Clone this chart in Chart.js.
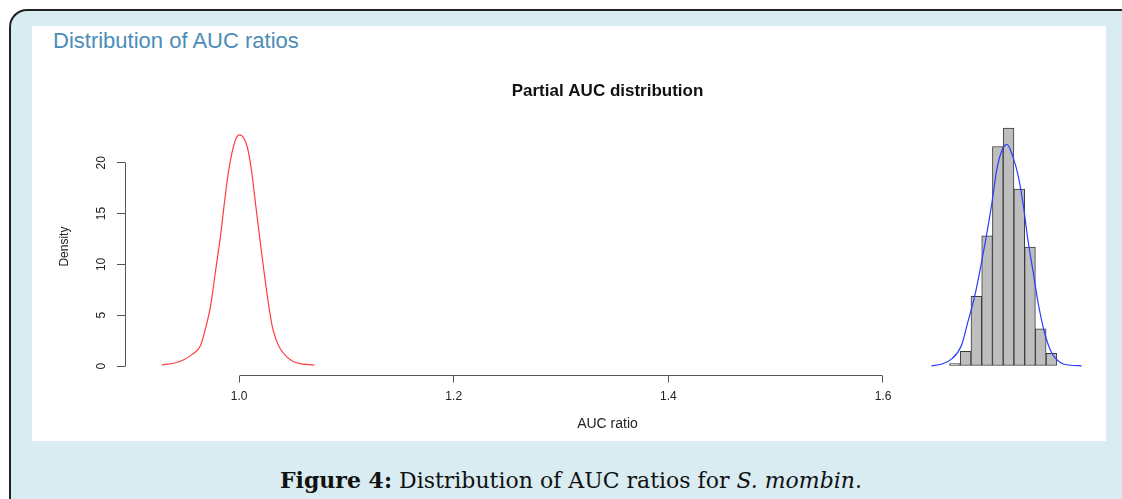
<!DOCTYPE html>
<html><head><meta charset="utf-8">
<script src="https://cdn.jsdelivr.net/npm/chart.js@4.4.1/dist/chart.umd.min.js"></script>
<style>
html,body{margin:0;padding:0;width:1122px;height:499px;overflow:hidden;background:#fff;}
#frame{position:absolute;left:9px;top:9px;width:1200px;height:600px;border-top:2px solid #222;border-left:2px solid #222;border-top-left-radius:18px;background:#d8ecf1;box-sizing:border-box;}
#panel{position:absolute;left:32px;top:26px;width:1074px;height:415px;background:#fff;}
#ptitle{position:absolute;left:53px;top:29px;font:22px "Liberation Sans",Arial,sans-serif;color:#4d8cb8;line-height:24px;white-space:nowrap;}
#chart{position:absolute;left:32px;top:26px;}
#cap{position:absolute;left:0;width:1142px;top:466px;text-align:center;font:22px "DejaVu Serif",serif;color:#111;line-height:28px;white-space:nowrap;}
</style></head>
<body>
<div id="frame"></div>
<div id="panel"></div>
<div id="ptitle">Distribution of AUC ratios</div>
<canvas id="chart" width="1074" height="415"></canvas>
<div id="cap"><b>Figure 4:</b> Distribution of AUC ratios for <i>S. mombin</i>.</div>
<script>
const xTickValues = [1.0, 1.2, 1.4, 1.6];
const yTickValues = [0, 5, 10, 15, 20];
const histCenters = [1.667, 1.677, 1.687, 1.697, 1.707, 1.717, 1.727, 1.737, 1.747, 1.757];
const histDensity = [0.24, 1.45, 6.85, 12.8, 21.6, 23.4, 17.4, 11.7, 3.65, 1.25];
const redX = [0.928, 0.94, 0.9485, 0.957, 0.964, 0.9685, 0.9734, 0.978, 0.9827, 0.9865, 0.9904, 0.9966, 1.0007, 1.0075, 1.0115, 1.0153, 1.019, 1.023, 1.027, 1.0308, 1.0345, 1.0385, 1.045, 1.051, 1.06, 1.0702];
const redY = [0.1, 0.3, 0.62, 1.2, 2.0, 3.6, 5.9, 9.3, 12.8, 16.2, 19.3, 22.25, 22.75, 21.6, 19.3, 16.0, 12.8, 9.5, 6.4, 3.95, 2.6, 1.67, 0.85, 0.42, 0.18, 0.1];
const blueX = [1.645, 1.655, 1.664, 1.673, 1.679, 1.6855, 1.690, 1.695, 1.701, 1.706, 1.7105, 1.7155, 1.721, 1.726, 1.7305, 1.735, 1.740, 1.7445, 1.7505, 1.757, 1.766, 1.775, 1.785];
const blueY = [0.03, 0.2, 0.7, 2.0, 4.3, 6.9, 9.2, 12.0, 15.7, 19.3, 21.1, 21.8, 20.6, 18.7, 16.0, 12.45, 9.2, 6.25, 3.3, 1.34, 0.3, 0.08, 0.02];

const FONT = 'Liberation Sans';
const axisLinePlugin = {
  id: 'rAxes',
  afterDraw(chart) {
    const {ctx, chartArea: a, scales: {x, y}} = chart;
    const al = v => Math.round(v - 0.5) + 0.5;
    ctx.save();
    ctx.strokeStyle = '#555';
    ctx.lineWidth = 1;
    ctx.beginPath();
    const yb = al(a.bottom);
    ctx.moveTo(al(x.getPixelForValue(xTickValues[0])), yb);
    ctx.lineTo(al(x.getPixelForValue(xTickValues[xTickValues.length - 1])), yb);
    const xl = al(a.left);
    ctx.moveTo(xl, al(y.getPixelForValue(yTickValues[0])));
    ctx.lineTo(xl, al(y.getPixelForValue(yTickValues[yTickValues.length - 1])));
    ctx.stroke();
    ctx.restore();
  }
};

new Chart(document.getElementById('chart'), {
  type: 'bar',
  data: {
    datasets: [
      {
        type: 'bar',
        data: histCenters.map((c, i) => ({x: c, y: histDensity[i]})),
        backgroundColor: '#bebebe',
        borderColor: '#3a3a3a',
        borderWidth: 1,
        borderSkipped: false,
        barPercentage: 1,
        categoryPercentage: 1,
        order: 3
      },
      {
        type: 'line',
        data: blueX.map((v, i) => ({x: v, y: blueY[i]})),
        borderColor: '#2b3bff',
        borderWidth: 1.2,
        pointRadius: 0,
        fill: false,
        cubicInterpolationMode: 'monotone',
        order: 1
      },
      {
        type: 'line',
        data: redX.map((v, i) => ({x: v, y: redY[i]})),
        borderColor: '#ff3b3b',
        borderWidth: 1.2,
        pointRadius: 0,
        fill: false,
        cubicInterpolationMode: 'monotone',
        order: 1
      }
    ]
  },
  options: {
    responsive: false,
    animation: false,
    devicePixelRatio: 1,
    layout: {padding: {left: 0, right: 16, top: 55.5, bottom: 0}},
    plugins: {
      legend: {display: false},
      tooltip: {enabled: false},
      title: {
        display: true, text: 'Partial AUC distribution', fullSize: false, color: '#111',
        font: {family: FONT, size: 17, weight: 'bold', lineHeight: 1.2},
        padding: {top: 0, bottom: 15.7}
      }
    },
    scales: {
      x: {
        type: 'linear', min: 0.8937, max: 1.7929, offset: false,
        grid: {display: true, drawOnChartArea: false, drawTicks: true, tickLength: 7, color: '#555', offset: false},
        border: {display: false},
        afterBuildTicks: s => { s.ticks = xTickValues.map(v => ({value: v})); },
        afterFit: s => { s.height = 65.4; },
        ticks: {color: '#222', font: {family: FONT, size: 12, lineHeight: 1.2}, padding: 7.2, maxRotation: 0, autoSkip: false, callback: v => Number(v).toFixed(1)},
        title: {display: true, text: 'AUC ratio', color: '#222', font: {family: FONT, size: 14, lineHeight: 1.2}, padding: {top: 0, bottom: 8.6}}
      },
      y: {
        type: 'linear', min: -0.94, max: 24.44,
        grid: {display: true, drawOnChartArea: false, drawTicks: true, tickLength: 8, color: '#555'},
        border: {display: false},
        afterBuildTicks: s => { s.ticks = yTickValues.map(v => ({value: v})); },
        afterFit: s => { s.width = 93; },
        ticks: {color: '#222', font: {family: FONT, size: 12, lineHeight: 1.2}, padding: 8.8, minRotation: 90, maxRotation: 90, crossAlign: 'center', autoSkip: false, callback: v => String(v)},
        title: {display: true, text: 'Density', color: '#222', font: {family: FONT, size: 12, lineHeight: 1.2}, padding: {top: 25.8, bottom: 0}}
      }
    }
  },
  plugins: [axisLinePlugin]
});
</script>
</body></html>
